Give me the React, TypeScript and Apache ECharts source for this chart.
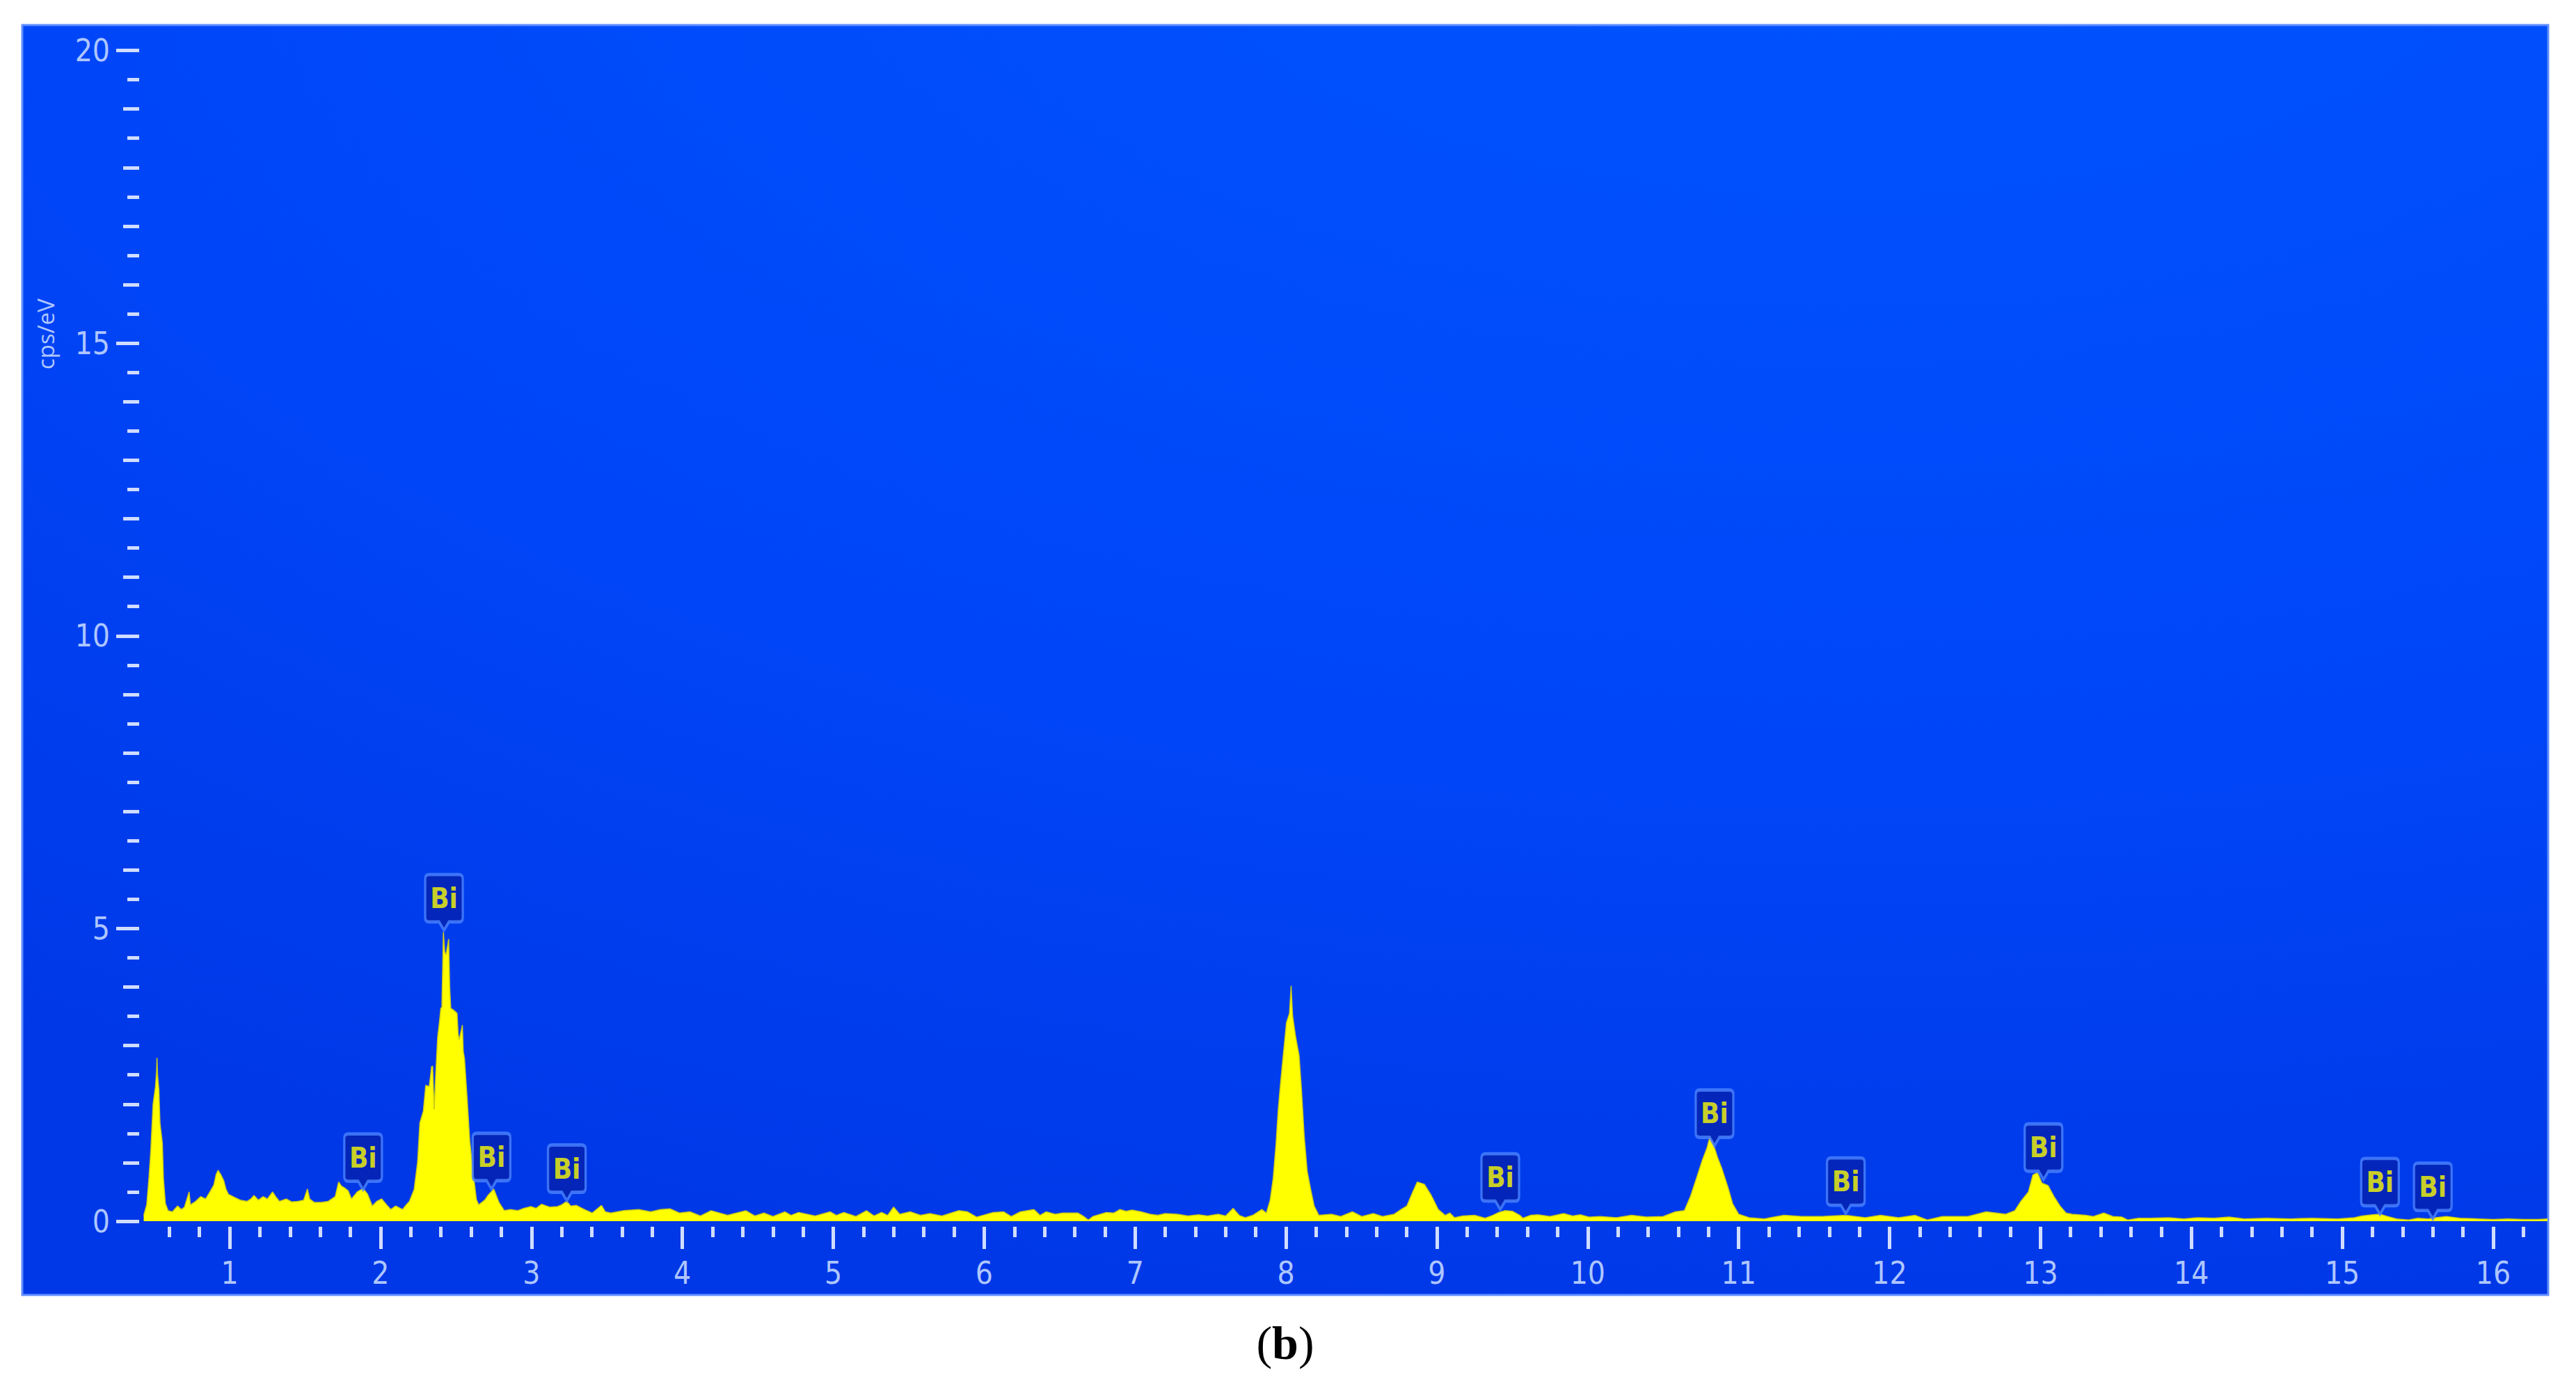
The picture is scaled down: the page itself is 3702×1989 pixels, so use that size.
import React, { useEffect, useRef } from "react";
import * as echarts from "echarts";

// ---- Spectrum data (keV, cps/eV) ----
const energy = [
  0.43, 0.45, 0.465, 0.477, 0.492, 0.508, 0.515, 0.518, 0.522, 0.531, 0.538, 0.554, 0.561, 0.574, 0.592,
  0.62, 0.654, 0.68, 0.7, 0.731, 0.74, 0.77, 0.808, 0.84, 0.869, 0.895, 0.91, 0.923, 0.94, 0.961, 0.975,
  0.992, 1.038, 1.07, 1.115, 1.14, 1.161, 1.19, 1.222, 1.25, 1.284, 1.31, 1.33, 1.376, 1.41, 1.453, 1.49,
  1.515, 1.53, 1.561, 1.607, 1.653, 1.699, 1.722, 1.74, 1.761, 1.785, 1.807, 1.845, 1.884, 1.914, 1.945,
  1.975, 2.007, 2.04, 2.068, 2.1, 2.145, 2.17, 2.191, 2.222, 2.245, 2.26, 2.283, 2.299, 2.322, 2.338,
  2.345, 2.355, 2.365, 2.378, 2.391, 2.399, 2.406, 2.416, 2.425, 2.434, 2.451, 2.458, 2.465, 2.486,
  2.507, 2.514, 2.521, 2.542, 2.548, 2.556, 2.574, 2.591, 2.618, 2.635, 2.65, 2.67, 2.69, 2.714, 2.75,
  2.765, 2.785, 2.82, 2.86, 2.908, 2.95, 2.996, 3.03, 3.067, 3.12, 3.172, 3.2, 3.234, 3.26, 3.296, 3.35,
  3.402, 3.464, 3.49, 3.525, 3.613, 3.71, 3.79, 3.855, 3.92, 3.98, 4.05, 4.12, 4.19, 4.3, 4.42, 4.48,
  4.54, 4.6, 4.68, 4.72, 4.77, 4.88, 4.98, 5.02, 5.07, 5.15, 5.22, 5.27, 5.32, 5.36, 5.4, 5.44, 5.51,
  5.58, 5.64, 5.72, 5.83, 5.89, 5.95, 6.06, 6.13, 6.18, 6.24, 6.33, 6.37, 6.41, 6.47, 6.52, 6.62, 6.66,
  6.69, 6.72, 6.81, 6.86, 6.9, 6.94, 6.98, 7.04, 7.1, 7.15, 7.2, 7.28, 7.35, 7.42, 7.48, 7.55, 7.6,
  7.65, 7.69, 7.73, 7.78, 7.84, 7.87, 7.895, 7.915, 7.933, 7.949, 7.964, 7.98, 8.003, 8.023, 8.034,
  8.044, 8.064, 8.087, 8.103, 8.121, 8.141, 8.164, 8.187, 8.218, 8.302, 8.363, 8.44, 8.502, 8.579,
  8.64, 8.717, 8.763, 8.801, 8.84, 8.87, 8.917, 8.963, 9.009, 9.055, 9.086, 9.117, 9.17, 9.25, 9.32,
  9.37, 9.41, 9.45, 9.5, 9.55, 9.57, 9.62, 9.67, 9.75, 9.84, 9.9, 9.95, 10.01, 10.08, 10.19, 10.29,
  10.39, 10.5, 10.58, 10.64, 10.68, 10.72, 10.76, 10.79, 10.81, 10.83, 10.86, 10.89, 10.93, 10.96, 11.0,
  11.07, 11.17, 11.3, 11.42, 11.55, 11.71, 11.84, 11.94, 12.06, 12.17, 12.25, 12.35, 12.52, 12.64,
  12.77, 12.83, 12.87, 12.92, 12.95, 12.98, 13.01, 13.05, 13.09, 13.13, 13.17, 13.21, 13.3, 13.35,
  13.42, 13.48, 13.54, 13.58, 13.65, 13.73, 13.85, 13.95, 14.04, 14.15, 14.25, 14.35, 14.5, 14.66,
  14.8, 14.97, 15.08, 15.13, 15.2, 15.25, 15.3, 15.36, 15.44, 15.5, 15.57, 15.62, 15.69, 15.78, 15.9,
  16.0, 16.1, 16.2, 16.3, 16.36,
];
const cps = [
  0.1, 0.28, 0.75, 1.21, 2.0, 2.3, 2.55, 2.79, 2.5, 2.24, 1.68, 1.33, 0.73, 0.3, 0.18,
  0.16, 0.26, 0.2, 0.24, 0.5, 0.28, 0.33, 0.42, 0.38, 0.5, 0.62, 0.8, 0.87, 0.8, 0.69, 0.55,
  0.46, 0.4, 0.36, 0.34, 0.38, 0.44, 0.36, 0.42, 0.38, 0.5, 0.4, 0.34, 0.38, 0.33, 0.34, 0.36,
  0.55, 0.38, 0.32, 0.32, 0.34, 0.42, 0.67, 0.6, 0.57, 0.52, 0.38, 0.5, 0.56, 0.46, 0.26,
  0.34, 0.38, 0.28, 0.2, 0.26, 0.2, 0.28, 0.34, 0.54, 1.01, 1.68, 1.88, 2.32, 2.3, 2.64,
  2.65, 1.91, 2.5, 3.14, 3.43, 3.64, 3.65, 4.94, 4.6, 4.55, 4.82, 4.0, 3.64, 3.6,
  3.55, 3.2, 3.1, 3.35, 2.9, 2.78, 2.09, 1.37, 0.73, 0.37, 0.28, 0.32, 0.36, 0.45, 0.55,
  0.45, 0.32, 0.18, 0.2, 0.18, 0.22, 0.25, 0.22, 0.29, 0.24, 0.25, 0.28, 0.34, 0.26, 0.27, 0.2,
  0.14, 0.27, 0.16, 0.14, 0.18, 0.2, 0.16, 0.2, 0.21, 0.14, 0.16, 0.09, 0.18, 0.1, 0.18, 0.09,
  0.14, 0.08, 0.16, 0.1, 0.15, 0.09, 0.16, 0.1, 0.15, 0.08, 0.18, 0.09, 0.15, 0.1, 0.24, 0.12, 0.16,
  0.1, 0.13, 0.09, 0.18, 0.16, 0.07, 0.15, 0.16, 0.08, 0.16, 0.2, 0.1, 0.16, 0.12, 0.14, 0.14, 0.08,
  0.02, 0.08, 0.15, 0.14, 0.2, 0.17, 0.19, 0.16, 0.12, 0.1, 0.13, 0.12, 0.09, 0.11, 0.09, 0.12, 0.09,
  0.22, 0.1, 0.06, 0.1, 0.2, 0.14, 0.36, 0.73, 1.29, 1.92, 2.36, 2.79, 3.39, 3.55, 4.02,
  3.51, 3.15, 2.83, 2.24, 1.45, 0.85, 0.54, 0.26, 0.1, 0.12, 0.08, 0.16, 0.08, 0.13,
  0.08, 0.12, 0.2, 0.26, 0.5, 0.67, 0.63, 0.44, 0.2, 0.1, 0.14, 0.06, 0.09, 0.1, 0.05,
  0.1, 0.15, 0.18, 0.17, 0.1, 0.05, 0.1, 0.11, 0.08, 0.13, 0.09, 0.11, 0.07, 0.08, 0.06, 0.1,
  0.07, 0.08, 0.16, 0.18, 0.42, 0.73, 1.05, 1.25, 1.45, 1.33, 1.09, 0.89, 0.57, 0.3, 0.12,
  0.06, 0.04, 0.1, 0.08, 0.08, 0.1, 0.06, 0.1, 0.06, 0.1, 0.02, 0.08, 0.08, 0.16,
  0.12, 0.18, 0.34, 0.5, 0.79, 0.83, 0.65, 0.61, 0.42, 0.26, 0.14, 0.12, 0.1, 0.08,
  0.14, 0.08, 0.07, 0.02, 0.05, 0.05, 0.06, 0.04, 0.06, 0.05, 0.07, 0.04, 0.05, 0.04,
  0.05, 0.04, 0.06, 0.09, 0.11, 0.12, 0.08, 0.04, 0.02, 0.05, 0.04, 0.06, 0.08, 0.05, 0.04,
  0.03, 0.04, 0.03, 0.03, 0.04,
];

// ---- Element markers (Bi) ----
const biEnergy = [1.884, 2.42, 2.735, 3.234, 9.42, 10.84, 11.71, 13.02, 15.25, 15.6];
const biHeight = [0.54, 4.97, 0.55, 0.35, 0.2, 1.29, 0.13, 0.71, 0.12, 0.04];
const biText = ["Bi", "Bi", "Bi", "Bi", "Bi", "Bi", "Bi", "Bi", "Bi", "Bi"];

// ---- Axes ----
const xMin = 0.4;
const xMax = 16.36;
const xMajor = [1, 2, 3, 4, 5, 6, 7, 8, 9, 10, 11, 12, 13, 14, 15, 16];
const yMajor = [0, 5, 10, 15, 20];
const yMedium = [1, 2, 3, 4, 6, 7, 8, 9, 11, 12, 13, 14, 16, 17, 18, 19];
const yMinor = [0.5, 1.5, 2.5, 3.5, 4.5, 5.5, 6.5, 7.5, 8.5, 9.5, 10.5, 11.5, 12.5, 13.5, 14.5, 15.5, 16.5, 17.5, 18.5, 19.5];
const yTitle = "cps/eV";
const caption = "b";

const xMinor: number[] = [];
for (let k = 3; k <= 81; k++) {
  const v = Math.round(k * 2) / 10;
  if (Math.abs(v - Math.round(v)) > 1e-6) xMinor.push(v);
}

const tickColor = "#d0ddff";
const labelColor = "#aec6ff";
const narrow = '"Liberation Sans Narrow", "DejaVu Sans Condensed", "Liberation Sans", sans-serif';

export default function App() {
  const ref = useRef<HTMLDivElement>(null);

  useEffect(() => {
    const chart = echarts.init(ref.current as HTMLDivElement, null, { renderer: "svg" });

    const xBase = {
      type: "value" as const,
      min: xMin,
      max: xMax,
      position: "bottom" as const,
      offset: 8,
      axisLine: { show: false, onZero: false },
      splitLine: { show: false },
    };
    const yBase = {
      type: "value" as const,
      min: 0,
      max: 20,
      position: "left" as const,
      axisLine: { show: false, onZero: false },
      splitLine: { show: false },
    };

    const option: any = {
      animation: false,
      grid: { left: 200, right: 3702 - 3661, top: 72.5, bottom: 1989 - 1755, containLabel: false },
      graphic: [
        {
          type: "rect",
          z: -10,
          silent: true,
          shape: { x: 32, y: 36, width: 3630, height: 1825 },
          style: {
            fill: {
              type: "radial",
              x: 0.72,
              y: -0.15,
              r: 1.2,
              colorStops: [
                { offset: 0, color: "#0055ff" },
                { offset: 0.6, color: "#0046f8" },
                { offset: 1, color: "#0037e6" },
              ],
            },
            stroke: "#5f8eff",
            lineWidth: 3,
          },
        },
        {
          type: "text",
          z: 10,
          x: 65,
          y: 480,
          rotation: Math.PI / 2,
          style: {
            text: yTitle,
            fill: labelColor,
            fontSize: 33,
            fontFamily: '"Open Sans", "DejaVu Sans", sans-serif',
            align: "center",
            verticalAlign: "middle",
          },
        },
        {
          type: "text",
          z: 10,
          x: 1847,
          y: 1930,
          style: {
            text: "{p|(}{b|" + caption + "}{p|)}",
            align: "center",
            verticalAlign: "middle",
            rich: {
              p: { fontSize: 68, fontFamily: '"Liberation Serif", serif', fill: "#000", fontWeight: "normal" },
              b: { fontSize: 68, fontFamily: '"Liberation Serif", serif', fill: "#000", fontWeight: "bold" },
            },
          },
        },
      ],
      xAxis: [
        {
          ...xBase,
          axisTick: { show: true, length: 32, customValues: xMajor, lineStyle: { color: tickColor, width: 5 } },
          axisLabel: {
            show: true,
            customValues: xMajor,
            margin: 44,
            color: labelColor,
            fontSize: 44,
            fontFamily: narrow,
            formatter: (v: number) => String(v),
          },
        },
        {
          ...xBase,
          axisTick: { show: true, length: 15, customValues: xMinor, lineStyle: { color: tickColor, width: 5 } },
          axisLabel: { show: false },
        },
      ],
      yAxis: [
        {
          ...yBase,
          axisTick: { show: true, length: 33, customValues: yMajor, lineStyle: { color: tickColor, width: 5 } },
          axisLabel: {
            show: true,
            customValues: yMajor,
            margin: 42,
            color: labelColor,
            fontSize: 44,
            fontFamily: narrow,
            formatter: (v: number) => String(v),
          },
        },
        {
          ...yBase,
          axisTick: { show: true, length: 23, customValues: yMedium, lineStyle: { color: tickColor, width: 5 } },
          axisLabel: { show: false },
        },
        {
          ...yBase,
          axisTick: { show: true, length: 17, customValues: yMinor, lineStyle: { color: tickColor, width: 5 } },
          axisLabel: { show: false },
        },
      ],
      series: [
        {
          type: "line",
          xAxisIndex: 0,
          yAxisIndex: 0,
          data: energy.map((e, i) => [e, cps[i]]),
          showSymbol: false,
          symbol: "none",
          lineStyle: { color: "#c9c91a", width: 1.5 },
          areaStyle: { color: "#ffff00", opacity: 1 },
          z: 3,
        },
        {
          type: "scatter",
          xAxisIndex: 0,
          yAxisIndex: 0,
          z: 5,
          data: biEnergy.map((e, i) => ({ value: [e, biHeight[i]], name: biText[i] })),
          symbol: "path://M6,0 H48 Q54,0 54,6 V62 Q54,68 48,68 H34 L27,80 L20,68 H6 Q0,68 0,62 V6 Q0,0 6,0 Z",
          symbolSize: [54, 80],
          symbolOffset: [0, -40],
          itemStyle: { color: "#0520ac", borderColor: "#4b84ff", borderWidth: 4 },
          label: {
            show: true,
            position: "inside",
            offset: [0, -6],
            formatter: (p: any) => p.name,
            color: "#ffff00",
            fontSize: 40,
            fontWeight: "bold",
            fontFamily: narrow,
          },
        },
      ],
    };

    chart.setOption(option);
    return () => chart.dispose();
  }, []);

  return (
    <div
      ref={ref}
      style={{ position: "fixed", left: 0, top: 0, width: 3702, height: 1989, background: "#ffffff" }}
    />
  );
}
